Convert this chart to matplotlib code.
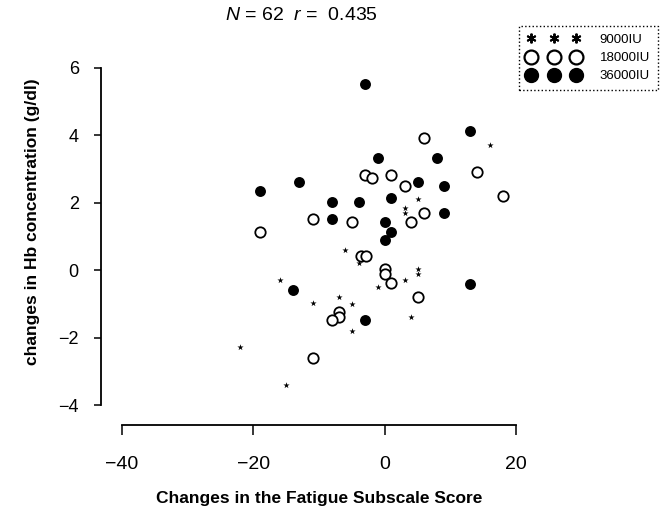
import matplotlib
matplotlib.use("Agg")
import matplotlib.pyplot as plt
from matplotlib.lines import Line2D

plt.rcParams["font.family"] = ["Liberation Sans", "DejaVu Sans"]
plt.rcParams["mathtext.fontset"] = "custom"
plt.rcParams["mathtext.it"] = "Liberation Sans:italic"
plt.rcParams["mathtext.rm"] = "Liberation Sans"

# 9000IU group (asterisks)
x_9000 = [-6, 16, 5, 3, 3, -4, -1, -16, -11, -7, -5, -5, -22, -15, 5, 5, 3, 4]
y_9000 = [0.61, 3.70, 2.12, 1.70, 1.85, 0.20, -0.50, -0.28, -0.98, -0.79, -0.99,
          -1.80, -2.28, -3.39, -0.10, 0.05, -0.30, -1.40]

# 18000IU group (open circles)
x_18000 = [-3, -2, 1, -11, -5, -19, -3.7, -2.9, 6, 14, 3, 18, 6, 4, 0, 0, 1,
           -7, -7, -8, -11, 5]
y_18000 = [2.82, 2.72, 2.82, 1.51, 1.42, 1.13, 0.42, 0.42, 3.92, 2.90, 2.51,
           2.19, 1.71, 1.42, 0.05, -0.10, -0.39, -1.24, -1.39, -1.48, -2.59, -0.79]

# 36000IU group (filled circles)
x_36000 = [-3, -1, -13, -19, -8, -4, 1, -8, 0, 1, 0, 13, 8, 5, 9, 9, -14, -3, 13]
y_36000 = [5.52, 3.32, 2.62, 2.34, 2.03, 2.03, 2.13, 1.51, 1.42, 1.12, 0.89,
           4.12, 3.32, 2.61, 2.51, 1.71, -0.60, -1.49, -0.42]

x_ticks = [-40, -20, 0, 20]
y_ticks = [-4, -2, 0, 2, 4, 6]

fig = plt.figure(figsize=(6.66, 5.16), dpi=100)
ax = fig.add_axes([0.1517, 0.1764, 0.655, 0.7306])

ax.scatter(x_9000, y_9000, marker="*", s=22, color="black", linewidths=0, zorder=3)
ax.scatter(x_18000, y_18000, marker="o", s=56, facecolors="white",
           edgecolors="black", linewidths=1.3, zorder=3)
ax.scatter(x_36000, y_36000, marker="o", s=62, color="black", linewidths=0, zorder=3)

ax.set_xlim(-43.2, 23.2)
ax.set_ylim(-4.59, 6.59)

# R-style detached axes
for side in ["top", "right"]:
    ax.spines[side].set_visible(False)
ax.spines["bottom"].set_bounds(-40, 20)
ax.spines["left"].set_bounds(-4, 6)
ax.spines["bottom"].set_linewidth(1.3)
ax.spines["left"].set_linewidth(1.3)

ax.set_xticks(x_ticks)
ax.set_yticks(y_ticks)
ax.set_xticklabels([str(t).replace("-", "\u2212") for t in x_ticks])
ax.set_yticklabels([str(t).replace("-", "\u2212") for t in y_ticks])
ax.tick_params(axis="x", direction="out", length=7, width=1.1, pad=15, labelsize=14)
ax.tick_params(axis="y", direction="out", length=5, width=1.1, pad=11, labelsize=13)

ax.set_xlabel("Changes in the Fatigue Subscale Score", fontsize=12.5, fontweight="bold")
ax.xaxis.set_label_coords(0.50, -0.175)
ax.set_ylabel("changes in Hb concentration (g/dl)", fontsize=12.5, fontweight="bold")
ax.yaxis.set_label_coords(-0.14, 0.538)

fig.text(0.452, 0.969, r"$N$ = 62  $r$ =  0.435", fontsize=14,
         ha="center", va="center")

# Legend
handles = [
    Line2D([], [], linestyle="none", marker=(6, 2, 0), markersize=7,
           markeredgewidth=1.4, color="black"),
    Line2D([], [], linestyle="none", marker="o", markersize=10,
           markerfacecolor="white", markeredgecolor="black", markeredgewidth=1.6),
    Line2D([], [], linestyle="none", marker="o", markersize=10, color="black"),
]
leg = fig.legend(handles, ["9000IU", "18000IU", "36000IU"],
                 loc="upper right", bbox_to_anchor=(0.988, 0.950),
                 numpoints=3, handlelength=4.0, handletextpad=1.5,
                 fontsize=9.5, borderaxespad=0, borderpad=0.6,
                 labelspacing=0.45, fancybox=False, framealpha=1)
leg.get_frame().set_edgecolor("black")
leg.get_frame().set_linestyle(":")
leg.get_frame().set_linewidth(1.0)

fig.savefig("out.png", dpi=100)
